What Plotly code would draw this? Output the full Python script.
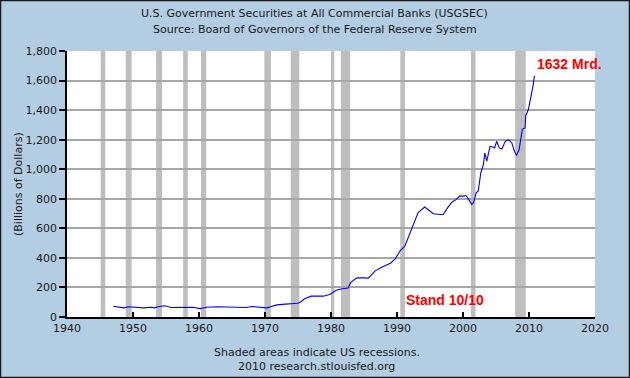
import plotly.graph_objects as go

# Data
years = [1947.0, 1947.8, 1948.6, 1949.3, 1950.0, 1950.8, 1951.6, 1952.8, 1953.3, 1953.8,
         1954.8, 1955.8, 1957.1, 1958.1, 1959.1, 1960.15, 1961.2, 1962.7, 1964.2, 1965.0,
         1966.2, 1967.2, 1968.0, 1968.7, 1969.5, 1970.3, 1971.0, 1971.8, 1973.1, 1973.8,
         1974.5, 1975.0, 1975.5, 1976.0, 1977.0, 1978.0, 1978.8, 1979.8, 1980.8, 1981.5,
         1982.6, 1983.0, 1983.9, 1985.2, 1985.6, 1985.9, 1986.7, 1987.7, 1989.0, 1989.7,
         1990.5, 1991.2, 1992.0, 1992.5, 1993.2, 1994.2, 1994.7, 1995.5, 1996.5, 1997.0,
         1997.5, 1998.3, 1999.0, 1999.5, 2000.0, 2000.45, 2000.95, 2001.3, 2001.6, 2002.0,
         2002.3, 2002.7, 2003.1, 2003.3, 2003.6, 2003.8, 2004.1, 2004.5, 2004.8, 2005.1,
         2005.5, 2005.9, 2006.4, 2006.9, 2007.4, 2007.7, 2008.1, 2008.5, 2008.8, 2009.0,
         2009.4, 2009.5, 2009.9, 2010.15, 2010.4, 2010.6, 2010.8, 2010.9]
values = [73, 69, 62, 69, 66, 66, 62, 66, 62, 69,
          76, 64, 64, 69, 66, 57, 66, 69, 69, 64,
          64, 64, 71, 69, 66, 62, 71, 82, 87, 89,
          87, 93, 105, 123, 141, 141, 141, 152, 181, 189,
          196, 234, 265, 265, 262, 274, 312, 337, 364, 391,
          450, 481, 571, 634, 706, 744, 728, 699, 694, 694,
          728, 777, 796, 818, 818, 822, 789, 762, 773, 841,
          852, 976, 1032, 1110, 1054, 1088, 1155, 1151, 1144, 1189,
          1144, 1137, 1189, 1200, 1178, 1133, 1092, 1133, 1222, 1272,
          1279, 1362, 1402, 1458, 1510, 1560, 1627, 1632]

rec_start = [1945.1, 1948.9, 1953.5, 1957.6, 1960.3, 1969.9, 1973.9, 1980.0, 1981.5, 1990.5, 2001.2, 2007.9]
rec_end = [1945.8, 1949.8, 1954.4, 1958.3, 1961.1, 1970.9, 1975.2, 1980.5, 1982.9, 1991.2, 2001.9, 2009.5]

x_ticks = [1940, 1950, 1960, 1970, 1980, 1990, 2000, 2010, 2020]
y_ticks = [0, 200, 400, 600, 800, 1000, 1200, 1400, 1600, 1800]
y_labels = ["0", "200", "400", "600", "800", "1,000", "1,200", "1,400", "1,600", "1,800"]

BG = "#B3CDE3"
FONT = "DejaVu Sans"
PW, PH = 528, 266

fig = go.Figure()
fig.add_trace(go.Scatter(x=years, y=values, mode="lines",
                         line=dict(color="#0000FF", width=1.1), showlegend=False,
                         hoverinfo="skip"))

shapes = []
for s, e in zip(rec_start, rec_end):
    shapes.append(dict(type="rect", xref="x", yref="paper", x0=s, x1=e, y0=0, y1=1,
                       fillcolor="#BEBEBE", line=dict(width=0), layer="between"))
# outer border of the image
shapes.append(dict(type="rect", xref="paper", yref="paper",
                   x0=-66.5 / PW, x1=1 + 34.5 / PW,
                   y0=-60.5 / PH, y1=1 + 50.5 / PH,
                   line=dict(color="#1a1a1a", width=1.5), layer="above"))

fig.update_layout(
    width=630, height=378,
    margin=dict(l=67, r=35, t=51, b=61, autoexpand=False),
    paper_bgcolor=BG, plot_bgcolor="white",
    font=dict(family=FONT, size=11, color="#1a1a1a"),
    shapes=shapes,
    showlegend=False,
)
fig.update_xaxes(range=[1940, 2020], tickvals=x_ticks, ticktext=[str(t) for t in x_ticks],
                 showgrid=False, zeroline=False, showline=True, linecolor="black", linewidth=1.5,
                 ticks="inside", ticklen=5, tickcolor="black", tickwidth=1.5, automargin=False,
                 tickfont=dict(family=FONT, size=11, color="#1a1a1a"), fixedrange=True)
fig.update_yaxes(range=[0, 1800], tickvals=y_ticks, ticktext=y_labels,
                 showgrid=True, gridcolor="#A6A6A6", gridwidth=1.5, zeroline=False,
                 showline=True, linecolor="black", linewidth=1.5, automargin=False,
                 ticks="outside", ticklen=6, tickcolor="black", tickwidth=1.5,
                 tickfont=dict(family=FONT, size=11, color="#1a1a1a"), fixedrange=True)

annotations = [
    dict(text="U.S. Government Securities at All Commercial Banks (USGSEC)", xref="paper", yref="paper",
         x=0.469, y=1 + 38 / PH, showarrow=False, font=dict(family=FONT, size=11, color="#1a1a1a"),
         xanchor="center", yanchor="middle"),
    dict(text="Source: Board of Governors of the Federal Reserve System", xref="paper", yref="paper",
         x=0.469, y=1 + 21 / PH, showarrow=False, font=dict(family=FONT, size=11, color="#1a1a1a"),
         xanchor="center", yanchor="middle"),
    dict(text="(Billions of Dollars)", xref="paper", yref="paper", textangle=-90,
         x=-49 / PW, y=0.5, showarrow=False, font=dict(family=FONT, size=11, color="#1a1a1a"),
         xanchor="center", yanchor="middle"),
    dict(text="Shaded areas indicate US recessions.", xref="paper", yref="paper",
         x=0.473, y=-35 / PH, showarrow=False, font=dict(family=FONT, size=11, color="#1a1a1a"),
         xanchor="center", yanchor="middle"),
    dict(text="2010 research.stlouisfed.org", xref="paper", yref="paper",
         x=0.473, y=-49 / PH, showarrow=False, font=dict(family=FONT, size=11, color="#1a1a1a"),
         xanchor="center", yanchor="middle"),
    dict(text="<b>1632 Mrd.</b>", xref="x", yref="y", x=2010.9, y=1712, showarrow=False,
         font=dict(family="Liberation Sans", size=14, color="#FF0000"), xanchor="left", yanchor="middle"),
    dict(text="<b>Stand 10/10</b>", xref="x", yref="y", x=1991.0, y=118, showarrow=False,
         font=dict(family="Liberation Sans", size=14, color="#FF0000"), xanchor="left", yanchor="middle"),
]
fig.update_layout(annotations=annotations)

fig.write_html("out.html", config={"displayModeBar": False},
               post_script="document.body.style.margin='0';document.body.style.overflow='hidden';")
